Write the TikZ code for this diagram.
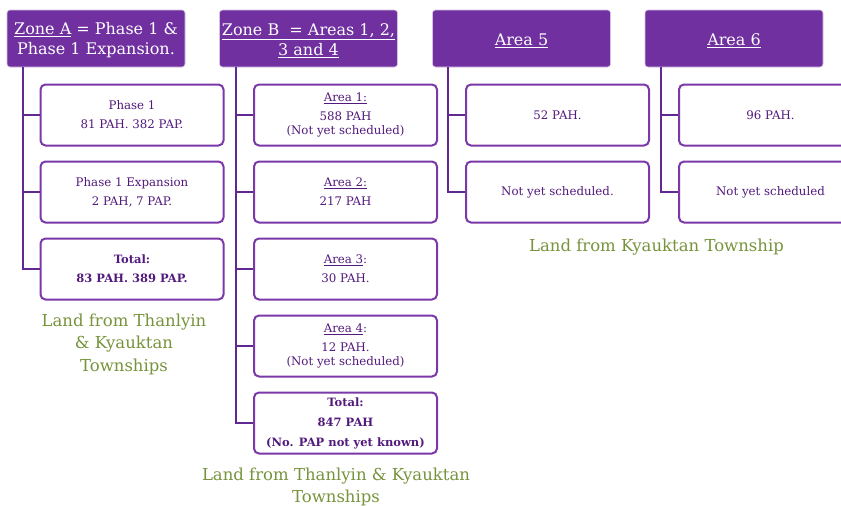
\documentclass[tikz,border=0pt]{standalone}
\usepackage{fontspec}
\setmainfont{DejaVu Serif}
\definecolor{hdrpurple}{HTML}{7030A0}
\definecolor{linepurple}{HTML}{602890}
\definecolor{boxpurple}{HTML}{7A38A8}
\definecolor{txtpurple}{HTML}{521A7C}
\definecolor{landgreen}{HTML}{77933C}
\tikzset{
  hdr/.style={rectangle, rounded corners=3pt, fill=hdrpurple, draw=hdrpurple!30,
    line width=0.6pt, minimum width=178, minimum height=57, inner sep=0pt},
  hdrtext/.style={inner sep=0pt, text=white, align=center,
    font=\fontsize{16}{20}\selectfont},
  infobox/.style={rectangle, rounded corners=5pt, fill=white, draw=boxpurple,
    line width=2pt, minimum width=183, minimum height=61, inner sep=0pt,
    text=txtpurple, align=center, font=\fontsize{11.8}{14.5}\selectfont},
  boldbox/.style={infobox, font=\fontsize{11.5}{14.5}\selectfont\bfseries},
  trunk/.style={draw=linepurple, line width=2.8pt},
  land/.style={text=landgreen, align=center, font=\fontsize{16.5}{22.5}\selectfont}
}
\begin{document}
\begin{tikzpicture}[x=1pt, y=-1pt]
\useasboundingbox (0,0) rectangle (841,506);
\clip (0,0) rectangle (841,506);

% column headers
\node[hdr] (hA) at (96,38.5) {};
\node[hdr] (hB) at (308.5,38.5) {};
\node[hdr] (h5) at (521.5,38.5) {};
\node[hdr] (h6) at (734,38.5) {};
\node[hdrtext] (hAt) at ([yshift=-2pt]hA.center) {\underline{Zone A} = Phase 1 \&\\Phase 1 Expansion.};
\node[hdrtext] (hBt) at ([yshift=-2pt]hB.center) {\underline{Zone B\ \ = Areas 1, 2,}\\\underline{3 and 4}};
\node[hdrtext] (h5t) at ([yshift=-2pt]h5.center) {\underline{Area 5}};
\node[hdrtext] (h6t) at ([yshift=-2pt]h6.center) {\underline{Area 6}};

% trunk positions
\coordinate (tA) at (23,67);
\coordinate (tB) at (236,67);
\coordinate (t5) at (448,67);
\coordinate (t6) at (661,67);

% Zone A
\node[infobox] (a1) at (132,115) {Phase 1\\[4.5pt]81 PAH. 382 PAP.};
\node[infobox] (a2) at (132,192) {Phase 1 Expansion\\[4.5pt]2 PAH, 7 PAP.};
\node[boldbox] (a3) at (132,269) {Total:\\[4.5pt]83 PAH. 389 PAP.};

% Zone B
\node[infobox] (b1) at (345.5,115) {\underline{Area 1:}\\[4.5pt]588 PAH\\(Not yet scheduled)};
\node[infobox] (b2) at (345.5,192) {\underline{Area 2:}\\[4.5pt]217 PAH};
\node[infobox] (b3) at (345.5,269) {\underline{Area 3}:\\[4.5pt]30 PAH.};
\node[infobox] (b4) at (345.5,346) {\underline{Area 4}:\\[4.5pt]12 PAH.\\(Not yet scheduled)};
\node[boldbox] (b5) at (345.5,423) {Total:\\[5.5pt]847 PAH\\[5.5pt](No. PAP not yet known)};

% Area 5
\node[infobox] (c1) at (557.5,115) {52 PAH.};
\node[infobox] (c2) at (557.5,192) {Not yet scheduled.};

% Area 6
\node[infobox] (d1) at (770.5,115) {96 PAH.};
\node[infobox] (d2) at (770.5,192) {Not yet scheduled};

% connectors
\draw[trunk] (tA) |- (a3.west);
\draw[trunk] (tA |- a1.west) -- (a1.west);
\draw[trunk] (tA |- a2.west) -- (a2.west);

\draw[trunk] (tB) |- (b5.west);
\foreach \n in {b1,b2,b3,b4} \draw[trunk] (tB |- \n.west) -- (\n.west);

\draw[trunk] (t5) |- (c2.west);
\draw[trunk] (t5 |- c1.west) -- (c1.west);

\draw[trunk] (t6) |- (d2.west);
\draw[trunk] (t6 |- d1.west) -- (d1.west);

% land notes
\node[land] (lA) at (124,344) {Land from Thanlyin\\\& Kyauktan\\Townships};
\node[land] (lB) at (336,487) {Land from Thanlyin \& Kyauktan\\Townships};
\node[land] (lC) at (656.5,247) {Land from Kyauktan Township};
\end{tikzpicture}
\end{document}
